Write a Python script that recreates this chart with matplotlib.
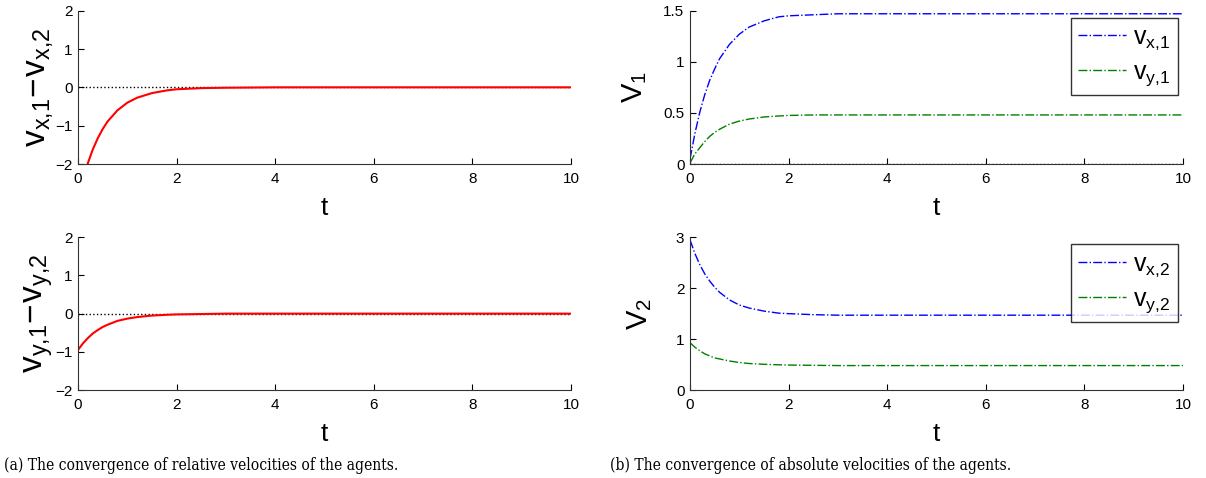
import matplotlib
matplotlib.use("Agg")
import matplotlib.pyplot as plt

plt.rcParams['font.family'] = ['Liberation Sans', 'DejaVu Sans']
plt.rcParams['mathtext.fontset'] = 'custom'
plt.rcParams['mathtext.rm'] = 'Liberation Sans'
plt.rcParams['mathtext.it'] = 'Liberation Sans'

# values
t = [0, 0.1, 0.2, 0.3, 0.4, 0.5, 0.6, 0.8, 1.0, 1.2, 1.5, 1.8, 2.0, 2.5, 3.0, 4.0, 6.0, 10.0]
dvx = [-2.95, -2.42, -1.98, -1.62, -1.33, -1.09, -0.89, -0.60, -0.40, -0.27, -0.15, -0.08, -0.05, -0.02, -0.01, 0, 0, 0]
dvy = [-0.95, -0.78, -0.64, -0.52, -0.43, -0.35, -0.29, -0.19, -0.13, -0.09, -0.05, -0.03, -0.02, -0.01, 0, 0, 0, 0]
vx1 = [0.05, 0.30, 0.51, 0.68, 0.82, 0.93, 1.03, 1.17, 1.27, 1.34, 1.40, 1.44, 1.45, 1.46, 1.47, 1.47, 1.47, 1.47]
vy1 = [0.01, 0.10, 0.16, 0.22, 0.27, 0.31, 0.34, 0.39, 0.42, 0.44, 0.46, 0.47, 0.475, 0.48, 0.48, 0.48, 0.48, 0.48]
vx2 = [2.95, 2.68, 2.46, 2.28, 2.14, 2.02, 1.92, 1.77, 1.67, 1.61, 1.55, 1.51, 1.50, 1.48, 1.47, 1.47, 1.47, 1.47]
vy2 = [0.93, 0.84, 0.77, 0.71, 0.67, 0.63, 0.61, 0.57, 0.54, 0.52, 0.505, 0.495, 0.49, 0.485, 0.48, 0.48, 0.48, 0.48]

caption_a = "(a) The convergence of relative velocities of the agents."
caption_b = "(b) The convergence of absolute velocities of the agents."

fig = plt.figure(figsize=(12.06, 4.78), dpi=100)

W, H = 1206, 478
def add_ax(x0, x1, y0, y1):
    return fig.add_axes([x0 / W, 1 - y1 / H, (x1 - x0) / W, (y1 - y0) / H])

ax_a1 = add_ax(78, 571, 10.7, 164)
ax_a2 = add_ax(78, 571, 237.3, 390)
ax_b1 = add_ax(690, 1183, 10.7, 164)
ax_b2 = add_ax(690, 1183, 237.3, 390)

def style(ax, ylim, yticks, ylabel, ylabelpad, ysize=21):
    ax.set_xlim(0, 10)
    ax.set_ylim(*ylim)
    ax.set_xticks([0, 2, 4, 6, 8, 10])
    ax.set_yticks(yticks)
    ax.spines['top'].set_visible(False)
    ax.spines['right'].set_visible(False)
    for s in ('left', 'bottom'):
        ax.spines[s].set_linewidth(0.8)
        ax.spines[s].set_color('#333333')
    ax.tick_params(direction='in', length=4, width=0.8, labelsize=11)
    ax.tick_params(axis='x', pad=6)
    ax.tick_params(axis='y', pad=4)
    ax.set_xlabel('t', fontsize=19, labelpad=7)
    ax.set_ylabel(ylabel, fontsize=ysize, labelpad=ylabelpad)

# (a) relative velocities
for ax, d, lab in [(ax_a1, dvx, r'$\mathregular{v_{x{,}1}\!-\!v_{x{,}2}}$'),
                   (ax_a2, dvy, r'$\mathregular{v_{y{,}1}\!-\!v_{y{,}2}}$')]:
    ax.plot([0, 10], [0, 0], color='black', linestyle=':', linewidth=1)
    ax.plot(t, d, color='red', linewidth=1.5)
    style(ax, (-2, 2), [-2, -1, 0, 1, 2], lab, 0, ysize=24)

# (b) absolute velocities
ax_b1.plot([0, 10], [0, 0], color='black', linestyle=':', linewidth=1)
ax_b1.plot(t, vx1, color='blue', linestyle='-.', linewidth=1, label=r'$\mathregular{v_{x{,}1}}$')
ax_b1.plot(t, vy1, color='green', linestyle='-.', linewidth=1, label=r'$\mathregular{v_{y{,}1}}$')
style(ax_b1, (0, 1.5), [0, 0.5, 1, 1.5], r'$\mathregular{V_1}$', 10)
ax_b1.set_yticklabels(['0', '0.5', '1', '1.5'])

ax_b2.plot(t, vx2, color='blue', linestyle='-.', linewidth=1, label=r'$\mathregular{v_{x{,}2}}$')
ax_b2.plot(t, vy2, color='green', linestyle='-.', linewidth=1, label=r'$\mathregular{v_{y{,}2}}$')
style(ax_b2, (0, 3), [0, 1, 2, 3], r'$\mathregular{V_2}$', 16)

for ax, handles in [(ax_b1, ax_b1.get_lines()[1:]), (ax_b2, ax_b2.get_lines())]:
    leg = ax.legend(handles=handles, loc='upper right', bbox_to_anchor=(0.99, 0.955),
                    fontsize=18, frameon=True, fancybox=False, handlelength=1.9,
                    borderpad=0.3, labelspacing=0.3, handletextpad=0.3, borderaxespad=0.0)
    leg.get_frame().set_edgecolor('black')
    leg.get_frame().set_linewidth(1)

fig.text(4 / W, 1 - 465 / H, caption_a, fontsize=11.2, family='DejaVu Serif',
         stretch='condensed', va='center')
fig.text(610 / W, 1 - 465 / H, caption_b, fontsize=11.2, family='DejaVu Serif',
         stretch='condensed', va='center')

fig.savefig('out.png', dpi=100)
